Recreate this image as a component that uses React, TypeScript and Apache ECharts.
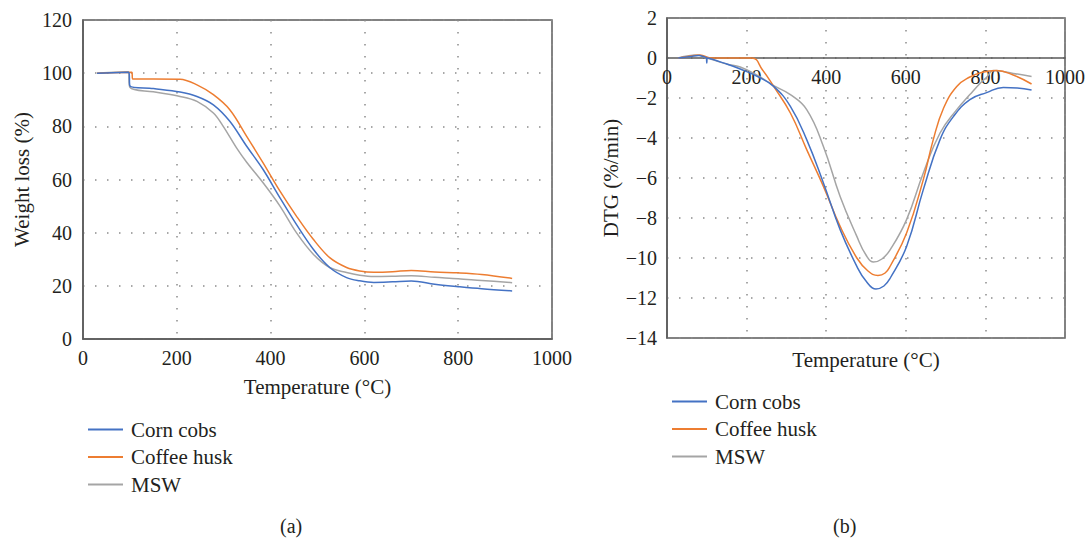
import React, { useEffect, useRef } from "react";
import * as echarts from "echarts";

const seriesNames = ["Corn cobs", "Coffee husk", "MSW"];
const colors = ["#4472C4", "#ED7D31", "#A5A5A5"];

// (a) TG curves: temperature (°C) and weight (%)
const cornTgTemp = [30, 98, 100, 150, 207, 243, 278, 313, 349, 384, 420, 455, 491, 526, 562, 590, 620, 660, 700, 750, 800, 850, 915];
const cornTg = [100, 100.3, 95.2, 94.2, 92.9, 91.25, 88.1, 81.9, 72.5, 63.75, 53.1, 43.1, 33.75, 26.9, 23.1, 21.9, 21.3, 21.5, 21.8, 20.6, 19.7, 18.9, 18.1];

const coffeeTgTemp = [30, 104, 106, 150, 207, 243, 278, 313, 349, 384, 420, 455, 491, 526, 562, 590, 620, 660, 700, 750, 800, 850, 915];
const coffeeTg = [100, 100.3, 97.8, 97.8, 97.75, 95.6, 91.9, 86.25, 76.25, 66.25, 55.6, 46.25, 37.5, 30.6, 26.9, 25.6, 25.1, 25.3, 25.8, 25.2, 24.9, 24.3, 22.8];

const mswTgTemp = [30, 96, 100, 150, 207, 243, 278, 299, 327, 349, 384, 420, 455, 491, 526, 562, 590, 620, 660, 700, 750, 800, 850, 915];
const mswTg = [100, 100.5, 94.7, 93.0, 91.25, 89.4, 85.0, 80.0, 72.0, 66.5, 58.75, 50.0, 40.0, 31.9, 26.9, 25.0, 24.0, 23.5, 23.6, 23.8, 23.2, 22.7, 22.0, 21.2];

// (b) DTG curves: temperature (°C) and DTG (%/min)
const cornDtgTemp = [28, 60, 80, 95, 99, 100, 101, 150, 184, 230, 268, 310, 351, 393, 435, 477, 500, 525, 545, 561, 602, 644, 686, 720, 761, 803, 845, 880, 916];
const cornDtg = [0, 0.08, 0.12, 0.05, 0.0, -0.25, 0.0, -0.3, -0.55, -0.95, -1.42, -2.42, -4.08, -6.25, -8.58, -10.42, -11.15, -11.55, -11.4, -11.0, -9.42, -6.58, -4.08, -2.92, -2.08, -1.73, -1.47, -1.5, -1.6];

const coffeeDtgTemp = [28, 60, 83, 110, 213, 240, 268, 310, 351, 393, 435, 477, 505, 530, 548, 561, 602, 644, 669, 695, 728, 761, 790, 828, 870, 916];
const coffeeDtg = [0, 0.1, 0.15, 0.0, 0.0, -0.6, -1.42, -2.75, -4.58, -6.42, -8.42, -10.0, -10.65, -10.87, -10.75, -10.4, -8.75, -6.08, -4.08, -2.5, -1.42, -0.95, -0.72, -0.63, -0.85, -1.3];

const mswDtgTemp = [28, 50, 75, 100, 150, 184, 230, 268, 310, 351, 393, 435, 477, 500, 519, 540, 561, 602, 644, 686, 728, 761, 790, 803, 820, 870, 916];
const mswDtg = [0, 0.1, 0.15, 0.0, -0.3, -0.45, -0.9, -1.38, -1.83, -2.58, -4.42, -6.92, -8.92, -9.85, -10.2, -10.05, -9.58, -8.08, -5.75, -3.75, -2.58, -1.83, -1.2, -0.97, -0.63, -0.77, -0.93];

const tgTicks = { min: 0, max: 120, interval: 20 };
const dtgTicks = { min: -14, max: 2, interval: 2 };
const tempTicks = { min: 0, max: 1000, interval: 200 };

const zip = (xs: number[], ys: number[]) => xs.map((x, i) => [x, ys[i]]);

const FONT = "'Liberation Serif', 'Times New Roman', serif";
const TEXT = "#231F20";
const AXIS = "#595959";

export default function App() {
  const ref = useRef<HTMLDivElement>(null);

  useEffect(() => {
    if (!ref.current) return;
    const chart = echarts.init(ref.current, undefined, { renderer: "svg" });

    const gridLine = {
      show: true,
      lineStyle: { color: "#8c8c8c", type: [1.5, 10.5] as any, width: 1.5 },
    };
    const label = (margin: number) => ({
      fontSize: 20,
      color: TEXT,
      fontFamily: FONT,
      margin,
      showMaxLabel: true,
      showMinLabel: true,
      formatter: (v: number) => String(v).replace("-", "\u2212"),
    });
    const nameStyle = { fontSize: 21, color: TEXT, fontFamily: FONT };

    const tgData = [zip(cornTgTemp, cornTg), zip(coffeeTgTemp, coffeeTg), zip(mswTgTemp, mswTg)];
    const dtgData = [zip(cornDtgTemp, cornDtg), zip(coffeeDtgTemp, coffeeDtg), zip(mswDtgTemp, mswDtg)];

    const mkSeries = (data: number[][][], idx: number, smooth: number) =>
      data.map((d, i) => ({
        name: seriesNames[i],
        type: "line",
        xAxisIndex: idx,
        yAxisIndex: idx,
        data: d,
        showSymbol: false,
        symbol: "none",
        smooth,
        color: colors[i],
        lineStyle: { color: colors[i], width: 1.5 },
        itemStyle: { color: colors[i] },
        z: 3 - i,
      }));

    const legend = (left: number, top: number) => ({
      orient: "vertical",
      left,
      top,
      itemWidth: 35,
      itemHeight: 2,
      itemGap: 6.5,
      icon: "rect",
      data: seriesNames,
      textStyle: { fontSize: 21, color: TEXT, fontFamily: FONT, padding: [0, 0, 0, 3] },
    });

    // grid 1 spans 2 .. -14 over 320 px, so the zero line sits 280 px above its bottom
    const dtgZeroOffset = -((dtgTicks.max - dtgTicks.min - dtgTicks.max) / (dtgTicks.max - dtgTicks.min)) * 320;

    chart.setOption({
      animation: false,
      backgroundColor: "#ffffff",
      textStyle: { fontFamily: FONT },
      grid: [
        { left: 83, top: 20, width: 469, height: 319, show: true, borderColor: AXIS, borderWidth: 1.5, containLabel: false, outerBoundsMode: "none" },
        { left: 667, top: 18, width: 398, height: 320, show: true, borderColor: AXIS, borderWidth: 1.5, containLabel: false, outerBoundsMode: "none" },
      ],
      xAxis: [
        {
          type: "value",
          gridIndex: 0,
          ...tempTicks,
          axisLine: { show: true, lineStyle: { color: AXIS, width: 1.5 } },
          axisTick: { show: false },
          axisLabel: label(9),
          splitLine: gridLine,
          name: "Temperature (°C)",
          nameLocation: "middle",
          nameGap: 37,
          nameTextStyle: nameStyle,
        },
        {
          type: "value",
          gridIndex: 1,
          ...tempTicks,
          position: "bottom",
          offset: dtgZeroOffset,
          axisLine: { show: true, onZero: false, lineStyle: { color: AXIS, width: 1.5 } },
          axisTick: { show: false },
          axisLabel: label(9),
          splitLine: gridLine,
        },
      ],
      yAxis: [
        {
          type: "value",
          gridIndex: 0,
          ...tgTicks,
          axisLine: { show: true, lineStyle: { color: AXIS, width: 1.5 } },
          axisTick: { show: false },
          axisLabel: label(11),
          splitLine: gridLine,
          name: "Weight loss (%)",
          nameLocation: "middle",
          nameGap: 51,
          nameTextStyle: nameStyle,
        },
        {
          type: "value",
          gridIndex: 1,
          ...dtgTicks,
          axisLine: { show: true, lineStyle: { color: AXIS, width: 1.5 } },
          axisTick: { show: false },
          axisLabel: label(10),
          splitLine: gridLine,
          name: "DTG (%/min)",
          nameLocation: "middle",
          nameGap: 45,
          nameTextStyle: nameStyle,
        },
      ],
      legend: [legend(83, 414), legend(667, 386)],
      graphic: [
        {
          type: "text",
          x: 866,
          y: 360,
          style: { text: "Temperature (°C)", fontSize: 21, fill: TEXT, fontFamily: FONT, textAlign: "center", textVerticalAlign: "middle" },
        },
        { type: "text", left: 280, top: 516, style: { text: "(a)", fontSize: 20, fill: TEXT, fontFamily: FONT } },
        { type: "text", left: 833, top: 516, style: { text: "(b)", fontSize: 20, fill: TEXT, fontFamily: FONT } },
      ],
      series: [...mkSeries(tgData, 0, 0.35), ...mkSeries(dtgData, 1, 0.45)],
    });

    return () => chart.dispose();
  }, []);

  return (
    <div
      ref={ref}
      style={{ position: "absolute", left: 0, top: 0, width: 1087, height: 539 }}
    />
  );
}
